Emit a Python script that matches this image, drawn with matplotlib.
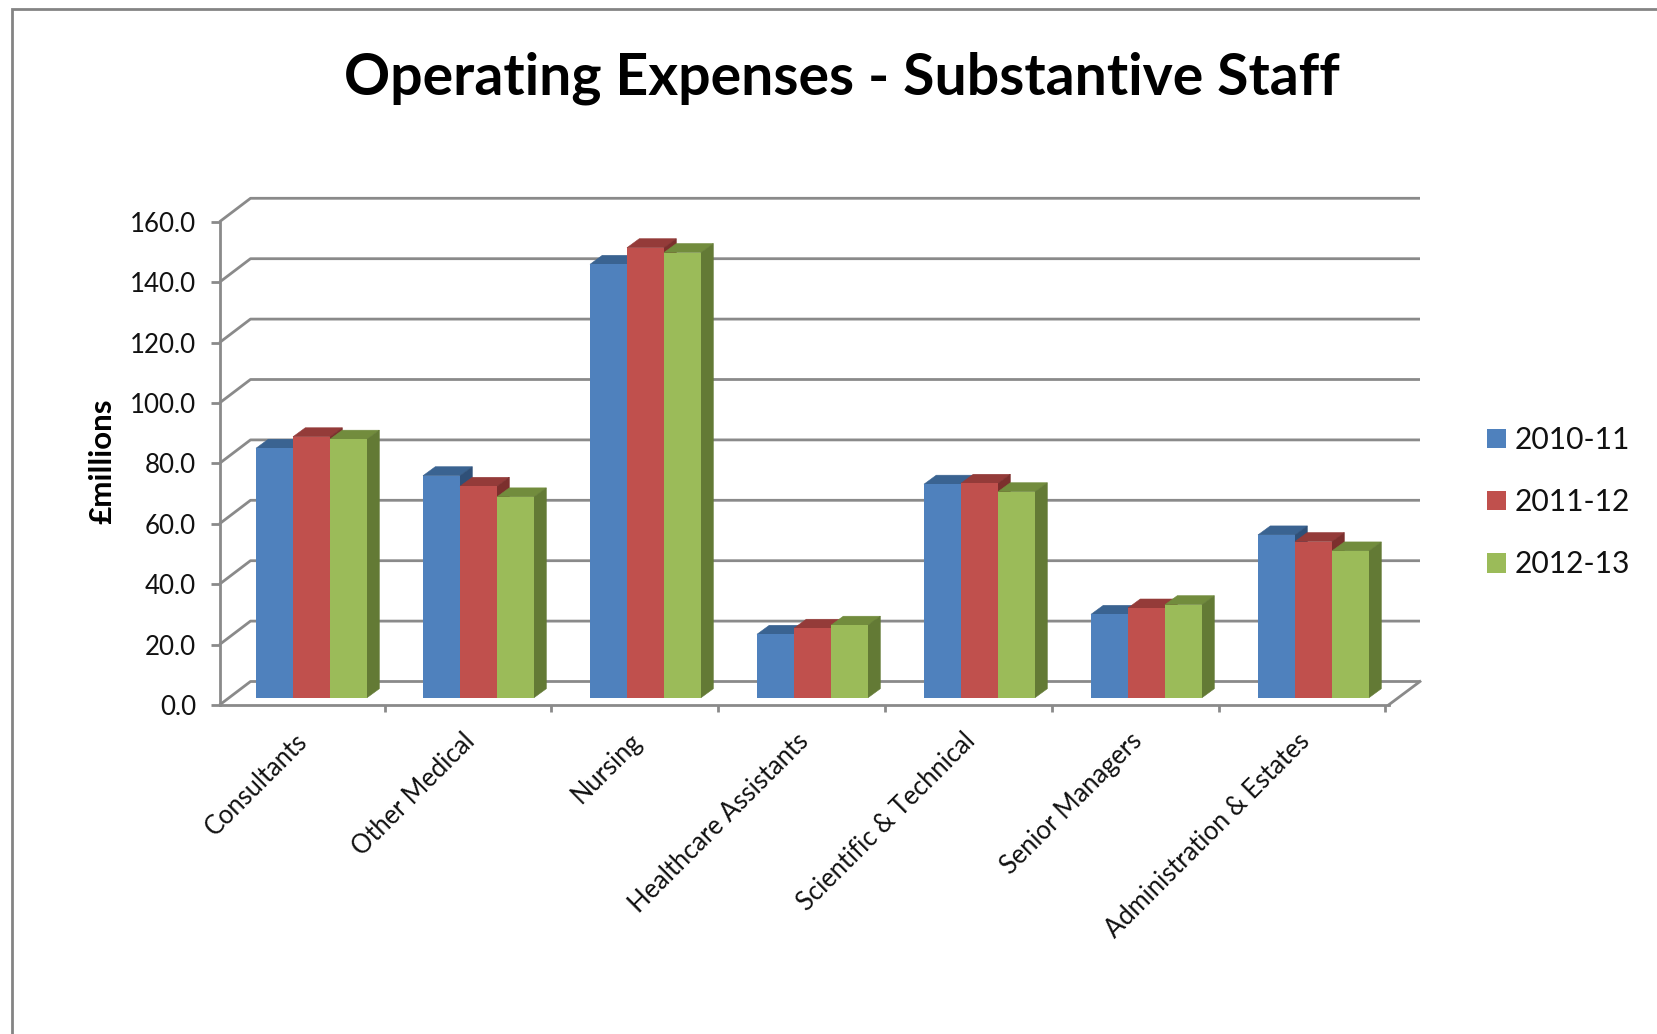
import matplotlib
matplotlib.use("Agg")
import matplotlib.pyplot as plt
from matplotlib.lines import Line2D
from matplotlib.patches import Patch

plt.rcParams['font.family'] = ['Lato', 'DejaVu Sans']

categories = ["Consultants", "Other Medical", "Nursing", "Healthcare Assistants",
              "Scientific & Technical", "Senior Managers", "Administration & Estates"]
series_names = ["2010-11", "2011-12", "2012-13"]
values_2010_11 = [82.6, 73.5, 143.5, 21.0, 70.7, 27.6, 53.9]
values_2011_12 = [86.4, 70.0, 149.0, 23.0, 71.0, 29.7, 51.7]
values_2012_13 = [85.6, 66.5, 147.4, 24.0, 68.2, 30.8, 48.6]
y_ticks = [0, 20, 40, 60, 80, 100, 120, 140, 160]

W, H = 1657, 1034
CAT_PX = 167.0      # pixels per category
VAL_PX = 3.02       # pixels per value unit
AX_L, AX_R, AX_B, AX_T = 219.5, 1420.0, 705.0, 198.0
X_MAX = (AX_R - AX_L) / CAT_PX
Y_MAX = (AX_B - AX_T) / VAL_PX

FACE = ["#4F81BD", "#C0504D", "#9BBB59"]
TOP = ["#3A6391", "#943B39", "#728C3D"]
SIDE = ["#2F5078", "#7C2F2D", "#637A35"]
AXIS_GREY = "#8A8A8A"
LINE_W = 2.0

fig = plt.figure(figsize=(W / 100, H / 100), dpi=100, facecolor="white")
ax = fig.add_axes([AX_L / W, 1 - AX_B / H, (AX_R - AX_L) / W, (AX_B - AX_T) / H])
ax.patch.set_alpha(0)

# Oblique depth of the wall and of each bar, in data units
wall_dx, wall_dy = 31 / CAT_PX, 23.5 / VAL_PX
bar_dx, bar_dy = 12.3 / CAT_PX, 9 / VAL_PX
base = 7.3 / VAL_PX
bar_w = 37 / CAT_PX
group_x0 = 36.5 / CAT_PX

# Wall gridlines with their diagonal run back from the value axis
for v in y_ticks:
    ax.plot([0, wall_dx, X_MAX], [v, v + wall_dy, v + wall_dy],
            color=AXIS_GREY, lw=LINE_W, zorder=1, clip_on=False, solid_capstyle="butt")
# Right edge of the floor
ax.plot([7, X_MAX], [0, wall_dy], color=AXIS_GREY, lw=LINE_W, zorder=1, clip_on=False)

all_values = [values_2010_11, values_2011_12, values_2012_13]
for i in range(len(categories)):
    for s, vals in enumerate(all_values):
        x0 = i + group_x0 + s * bar_w
        x1 = x0 + bar_w
        top = base + vals[i]
        z = 3 + s
        ax.fill([x0, x0 + bar_dx, x1 + bar_dx, x1], [top, top + bar_dy, top + bar_dy, top],
                facecolor=TOP[s], edgecolor=TOP[s], lw=0.4, zorder=z)
        ax.fill([x1, x1 + bar_dx, x1 + bar_dx, x1], [base, base + bar_dy, top + bar_dy, top],
                facecolor=SIDE[s], edgecolor=SIDE[s], lw=0.4, zorder=z)
        ax.bar(x0, vals[i], width=bar_w, bottom=base, align="edge", color=FACE[s], lw=0, zorder=z)

for name in ("top", "right"):
    ax.spines[name].set_visible(False)
for name in ("left", "bottom"):
    ax.spines[name].set_color(AXIS_GREY)
    ax.spines[name].set_linewidth(LINE_W)
    ax.spines[name].set_zorder(2)
ax.spines["left"].set_bounds(0, 160)
ax.spines["bottom"].set_bounds(0, 7)

ax.set_yticks(y_ticks)
ax.set_yticklabels([f"{v:.1f}" for v in y_ticks], fontsize=18.6, color="#111111")
ax.tick_params(axis="y", length=6.5, width=LINE_W, color=AXIS_GREY, pad=10.5)
# Category ticks sit a touch left of the floor corners
ax.set_xticks([(i * 166.8 - 1.8) / CAT_PX for i in range(8)])
ax.set_xticklabels([""] * 8)
ax.tick_params(axis="x", which="major", length=5, width=LINE_W, color=AXIS_GREY)
ax.set_xticks([i + 0.45 for i in range(7)], minor=True)
ax.set_xticklabels(categories, minor=True, rotation=45, ha="right", va="top",
                   rotation_mode="anchor", fontsize=18.4, color="#111111")
ax.tick_params(axis="x", which="minor", length=0, pad=17)

# Limits go last: the offset ticks would otherwise widen the view
ax.set_xlim(0, X_MAX)
ax.set_ylim(0, Y_MAX)
for tick in ax.xaxis.get_major_ticks():
    tick.tick1line.set_clip_on(False)

ax.set_ylabel("£millions", fontsize=22.5, fontweight="bold", color="black")
ax.yaxis.set_label_coords(102 / W, 1 - 461 / H, transform=fig.transFigure)
ax.yaxis.label.set_va("center")

fig.text(842 / W, 1 - 78 / H, "Operating Expenses - Substantive Staff", ha="center", va="center",
         fontsize=41.1, fontweight="bold", color="black")

handles = [Patch(facecolor=c, edgecolor="none") for c in FACE]
fig.legend(handles, series_names, loc="upper left", bbox_to_anchor=(1486.5 / W, 1 - 426 / H),
           frameon=False, fontsize=21.6, handlelength=0.65, handleheight=0.62, handletextpad=0.3,
           labelspacing=1.14, borderpad=0, borderaxespad=0, labelcolor="#111111")

# Outer chart border, cut off by the right and bottom of the canvas
fig.add_artist(Line2D([11.5 / W, 11.5 / W, 1], [0, 1 - 8.5 / H, 1 - 8.5 / H],
                      transform=fig.transFigure, color="#848484", lw=2.0,
                      solid_joinstyle="miter"))

fig.savefig("out.png", dpi=100, facecolor="white")
